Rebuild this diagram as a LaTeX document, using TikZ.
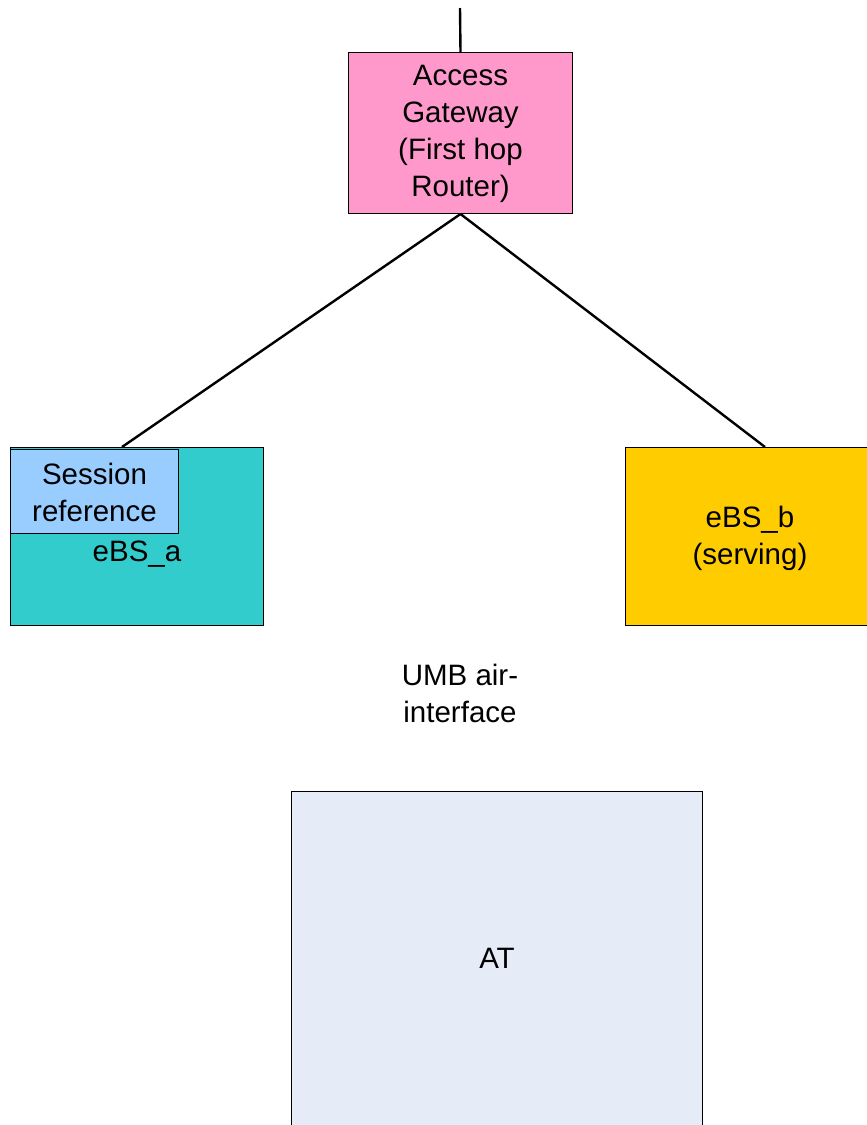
\documentclass[tikz,border=0pt]{standalone}
\usepackage{fontspec}
\setmainfont{Liberation Sans}
\definecolor{agwpink}{HTML}{FF99CC}
\definecolor{ebsteal}{HTML}{33CCCC}
\definecolor{sessblue}{HTML}{99CCFF}
\definecolor{ebsyellow}{HTML}{FFCC00}
\definecolor{atblue}{HTML}{E6ECF7}
\tikzset{
  box/.style={draw=black, line width=1pt, inner sep=0pt, align=center, anchor=north west},
  lbl/.style={inner sep=0pt, align=center, font=\fontsize{29.5}{37}\selectfont},
  link/.style={line width=2.4pt}
}
\begin{document}
\begin{tikzpicture}[x=1pt,y=-1pt]
\useasboundingbox (0,0) rectangle (867,1125);
\clip (0,0) rectangle (867,1125);
% Access Gateway
\node[box, fill=agwpink, minimum width=224, minimum height=161] (agw) at (348,52) {};
\node[lbl] (agwt) at ([yshift=-1]agw.center) {Access\\Gateway\\(First hop\\Router)};
% eBS_a
\node[box, fill=ebsteal, minimum width=253, minimum height=178] (ebsa) at (10,447) {};
\node[lbl] (ebsat) at (137,554) {eBS\_a};
\node[box, fill=sessblue, minimum width=168, minimum height=84] (sess) at (10,449) {};
\node[lbl] (sesst) at ([yshift=-1]sess.center) {Session\\reference};
% eBS_b
\node[box, fill=ebsyellow, minimum width=252, minimum height=178] (ebsb) at (625,447) {};
\node[lbl] (ebsbt) at (750,538) {eBS\_b\\(serving)};
% UMB label
\node[lbl] (umb) at (460,693) {UMB air-\\interface};
% AT
\node[box, fill=atblue, minimum width=411, minimum height=340] (at) at (291,791) {};
\node[lbl] (att) at (497,958) {AT};
% connectors
\coordinate (top) at (460,8);
\coordinate (ebsatop) at ([xshift=112]ebsa.north west);
\coordinate (ebsbtop) at ([xshift=140]ebsb.north west);
\draw[link] (agw.north) -- (top);
\draw[link] (agw.south) -- (ebsatop);
\draw[link] (agw.south) -- (ebsbtop);
\end{tikzpicture}
\end{document}
